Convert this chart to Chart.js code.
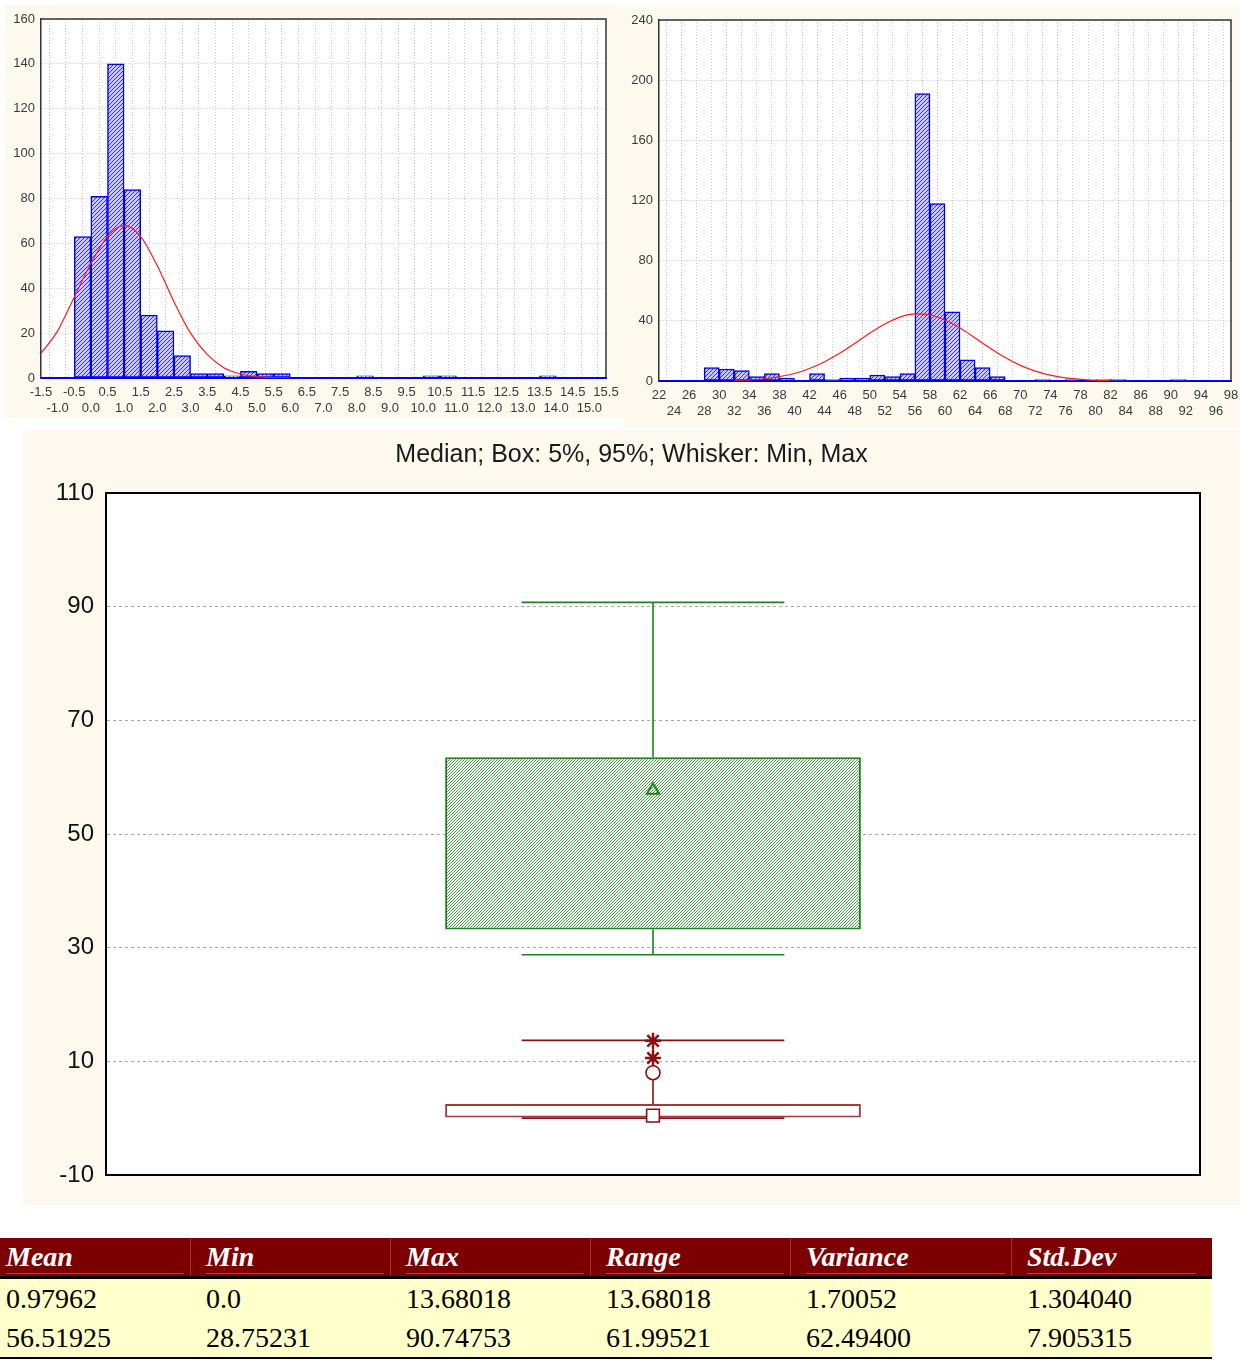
<!DOCTYPE html>
<html>
<head>
<meta charset="utf-8">
<script src="https://cdn.jsdelivr.net/npm/chart.js@4.4.1/dist/chart.umd.min.js"></script>
<style>
  body { margin: 0; background: #fff; width: 1240px; height: 1362px; position: relative; overflow: hidden; }
  .panel { position: absolute; background: #fdf9ee; }
  .panel canvas { display: block; }
  #p1 { left: 5px; top: 5px; width: 618px; height: 413px; }
  #p2 { left: 623px; top: 7px; width: 617px; height: 421px; }
  #p3 { left: 23px; top: 430px; width: 1217px; height: 775px; }
  #stats { position: absolute; left: 0; top: 1238px; width: 1212px; border-collapse: collapse; table-layout: fixed;
           font-family: "Liberation Serif", "Times New Roman", serif; font-size: 28px; }
  #stats th { background: #7d0000; color: #fff; font-style: italic; font-weight: bold; text-align: left;
              height: 38px; padding: 0 0 0 6px; border-bottom: 3px solid #000; position: relative; }
  #stats th span { display: block; line-height: 32px; border-bottom: 1px solid #a54a4a; margin-right: 16px; }
  #stats th + th::before { content: ""; position: absolute; left: -10px; top: 0; bottom: 0; width: 1px; background: #9a3535; }
  #stats td { background: #ffffcc; height: 39px; padding: 0 0 0 6px; color: #000; }
  #stats tbody tr:last-child td { border-bottom: 2px solid #000; }
</style>
</head>
<body>
<div class="panel" id="p1"><canvas id="histA" width="618" height="413"></canvas></div>
<div class="panel" id="p2"><canvas id="histB" width="617" height="421"></canvas></div>
<div class="panel" id="p3"><canvas id="boxes" width="1217" height="775"></canvas></div>
<table id="stats">
  <colgroup><col style="width:200px"><col style="width:200px"><col style="width:200px"><col style="width:200px"><col style="width:221px"><col style="width:191px"></colgroup>
  <thead><tr id="statHead"></tr></thead>
  <tbody id="statBody"></tbody>
</table>
<script>
// --- histogram 1 (bins of 0.5 starting at -1.5)
const histAStart = -1.5;
const histAWidth = 0.5;
const histACounts = [0, 0, 63, 81, 140, 84, 28, 21, 10, 2, 2, 1, 3, 2, 2, 0, 0, 0, 0, 1,
                     0, 0, 0, 1, 1, 0, 0, 0, 0, 0, 1, 0, 0, 0];
const histACurveX = [-1.5, -1, -0.5, 0, 0.5, 1, 1.5, 2, 2.5, 3, 3.5, 4, 4.5, 5, 5.5, 6];
const histACurveY = [11, 21, 36, 51, 63, 68, 63, 50, 34, 20, 10.5, 4.6, 1.8, 0.6, 0.2, 0];

// --- histogram 2 (bins of 2 starting at 22)
const histBStart = 22;
const histBWidth = 2;
const histBCounts = [0, 0, 0, 9, 8, 7, 3, 5, 2, 0, 5, 1, 2, 2, 4, 3, 5, 191, 118, 46,
                     14, 9, 3, 0, 0, 1, 0, 1, 0, 1, 1, 0, 0, 0, 1, 0, 0, 0];
const histBCurveX = [32, 34, 36, 38, 40, 42, 44, 46, 48, 50, 52, 54, 56, 58, 60, 62, 64, 66, 68, 70, 72, 74, 76, 78, 80, 82];
const histBCurveY = [0.4, 0.8, 1.5, 2.9, 5, 8.3, 12.8, 18.4, 25, 31.8, 37.9, 42.5, 44.6, 43.9, 40.6, 35.2,
                     28.6, 21.8, 15.6, 10.4, 6.6, 3.9, 2.1, 1.1, 0.5, 0.25];

// --- box plot
const boxTitle = 'Median; Box: 5%, 95%; Whisker: Min, Max';
const boxMin = [0.0, 28.75];
const boxP05 = [0.1, 33.2];
const boxMedian = [0.45, 57.7];
const boxP95 = [2.5, 63.5];
const boxMax = [13.68, 90.75];
const var1Outliers = [8.0];
const var1Extremes = [10.6, 13.6];

// --- table
const statNames = ['Mean', 'Min', 'Max', 'Range', 'Variance', 'Std.Dev'];
const statsVar1 = ['0.97962', '0.0', '13.68018', '13.68018', '1.70052', '1.304040'];
const statsVar2 = ['56.51925', '28.75231', '90.74753', '61.99521', '62.49400', '7.905315'];

Chart.defaults.font.family = '"Liberation Sans", Arial, sans-serif';
Chart.defaults.animation = false;

function hatch(ctx, bg, fg, size, lw) {
  const c = document.createElement('canvas');
  c.width = size; c.height = size;
  const g = c.getContext('2d');
  g.fillStyle = bg;
  g.fillRect(0, 0, size, size);
  g.strokeStyle = fg;
  g.lineWidth = lw;
  g.beginPath();
  g.moveTo(0, size); g.lineTo(size, 0);
  g.moveTo(-1, 1); g.lineTo(1, -1);
  g.moveTo(size - 1, size + 1); g.lineTo(size + 1, size - 1);
  g.stroke();
  return ctx.createPattern(c, 'repeat');
}

// white plot area + top/right frame
const framePlugin = {
  id: 'frame',
  beforeDraw(chart) {
    const { ctx, chartArea: a } = chart;
    ctx.save();
    ctx.fillStyle = '#fff';
    ctx.fillRect(a.left, a.top, a.right - a.left, a.bottom - a.top);
    ctx.restore();
  },
  afterDatasetsDraw(chart, args, opts) {
    const { ctx, chartArea: a } = chart;
    ctx.save();
    ctx.strokeStyle = opts.color;
    ctx.lineWidth = opts.width;
    ctx.beginPath();
    ctx.moveTo(a.left, a.top);
    ctx.lineTo(a.right, a.top);
    ctx.lineTo(a.right, a.bottom);
    ctx.stroke();
    ctx.restore();
  }
};

function histogram(id, start, width, counts, curveX, curveY, xMax, yMax, yStep, fmt, pad, xHeight) {
  const ctx = document.getElementById(id).getContext('2d');
  const bars = counts.map((c, i) => ({ x: start + (i + 0.5) * width, y: c }));
  const curve = curveX.map((x, i) => ({ x: x, y: curveY[i] }));
  new Chart(ctx, {
    type: 'bar',
    data: {
      datasets: [
        {
          type: 'line', data: curve, borderColor: '#ff1a1a', borderWidth: 1.2,
          pointRadius: 0, cubicInterpolationMode: 'monotone', order: 0
        },
        {
          data: bars, backgroundColor: hatch(ctx, '#c9c9ff', '#2d2dff', 4, 1),
          borderColor: '#0000f0', borderWidth: 1.5, borderSkipped: false,
          barPercentage: 1, categoryPercentage: 1, order: 1
        }
      ]
    },
    options: {
      responsive: false,
      devicePixelRatio: 1,
      layout: { padding: pad },
      plugins: { legend: { display: false }, tooltip: { enabled: false }, frame: { color: '#333', width: 1.5 } },
      scales: {
        x: {
          type: 'linear', min: start, max: xMax, offset: false,
          grid: { color: '#c4c4c4', drawTicks: false },
          border: { color: '#0000ee', width: 2, dash: [1, 2] },
          ticks: {
            stepSize: width, autoSkip: false, maxRotation: 0, minRotation: 0, padding: 7,
            color: '#3a3a3a', font: { size: 13 },
            callback: (v, i) => (i % 2 === 0 ? [fmt(v), ''] : ['', fmt(v)])
          },
          afterFit: (s) => { s.height = xHeight; s.paddingLeft = 0; s.paddingRight = 0; }
        },
        y: {
          min: 0, max: yMax,
          grid: { color: '#c4c4c4', drawTicks: false },
          border: { color: '#333', width: 1.5, dash: [1, 2] },
          ticks: { stepSize: yStep, padding: 6, color: '#3a3a3a', font: { size: 13 } },
          afterFit: (s) => { s.width = 36; s.paddingTop = 0; s.paddingBottom = 0; }
        }
      }
    },
    plugins: [framePlugin]
  });
}

histogram('histA', histAStart, histAWidth, histACounts, histACurveX, histACurveY, 15.5, 160, 20,
  (v) => Number(v).toFixed(1), { top: 14, right: 17, left: 0, bottom: 0 }, 40);
histogram('histB', histBStart, histBWidth, histBCounts, histBCurveX, histBCurveY, 98, 240, 40,
  (v) => String(Math.round(v)), { top: 13, right: 9, left: 0, bottom: 0 }, 47);

// --- box plot
const boxColors = ['#8b0f0f', '#17851a'];
const boxBorders = ['#a23a3a', '#17851a'];
const capRatio = 0.632;

const whiskerPlugin = {
  id: 'whiskers',
  beforeDatasetsDraw(chart) {
    const { ctx } = chart;
    const y = chart.scales.y;
    chart.data.datasets.forEach((ds, di) => {
      if (ds.boxIndex === undefined) return;
      const i = ds.boxIndex;
      const bar = chart.getDatasetMeta(di).data[0];
      const half = bar.width * capRatio / 2;
      ctx.save();
      ctx.strokeStyle = boxColors[i];
      ctx.lineWidth = 1.6;
      ctx.beginPath();
      ctx.moveTo(bar.x, y.getPixelForValue(boxP95[i]));
      ctx.lineTo(bar.x, y.getPixelForValue(boxMax[i]));
      ctx.moveTo(bar.x, y.getPixelForValue(boxP05[i]));
      ctx.lineTo(bar.x, y.getPixelForValue(boxMin[i]));
      [boxMax[i], boxMin[i]].forEach((v) => {
        const py = y.getPixelForValue(v);
        ctx.moveTo(bar.x - half, py);
        ctx.lineTo(bar.x + half, py);
      });
      ctx.stroke();
      ctx.restore();
    });
  }
};

const bctx = document.getElementById('boxes').getContext('2d');
new Chart(bctx, {
  type: 'bar',
  data: {
    labels: ['A'],
    datasets: [
      {
        type: 'line', data: var1Extremes.map((v) => ({ x: 'A', y: v })), showLine: false,
        pointStyle: 'star', pointRadius: 8, pointBorderWidth: 2.5, pointBorderColor: boxColors[0], order: 0
      },
      {
        type: 'line', data: var1Outliers.map((v) => ({ x: 'A', y: v })), showLine: false,
        pointStyle: 'circle', pointRadius: 7, pointBorderWidth: 1.6, pointBorderColor: boxColors[0],
        pointBackgroundColor: '#fff', order: 0
      },
      {
        type: 'line', data: [boxMedian[0]], showLine: false, pointStyle: 'rect', pointRadius: 9,
        pointBorderWidth: 1.6, pointBorderColor: boxColors[0], pointBackgroundColor: '#fff', order: 0
      },
      {
        type: 'line', data: [boxMedian[1]], showLine: false, pointStyle: 'triangle', pointRadius: 7,
        pointBorderWidth: 2, pointBorderColor: boxColors[1], pointBackgroundColor: 'rgba(0,0,0,0)', order: 0
      },
      {
        data: [[boxP05[1], boxP95[1]]], boxIndex: 1, grouped: false, order: 1,
        backgroundColor: hatch(bctx, '#ffffff', '#2c9a2e', 3, 0.9), borderColor: boxBorders[1],
        borderWidth: 2, borderSkipped: false, barPercentage: 0.38, categoryPercentage: 1
      },
      {
        data: [[boxP05[0], boxP95[0]]], boxIndex: 0, grouped: false, order: 1,
        backgroundColor: '#ffffff', borderColor: boxBorders[0],
        borderWidth: 2, borderSkipped: false, barPercentage: 0.38, categoryPercentage: 1
      }
    ]
  },
  options: {
    responsive: false,
    devicePixelRatio: 1,
    layout: { padding: { top: 0, right: 0, left: 0, bottom: 30 } },
    plugins: {
      legend: { display: false },
      tooltip: { enabled: false },
      title: {
        display: true, text: boxTitle, color: '#1a1a1a',
        font: { size: 25, weight: 'normal', lineHeight: 1.2 }, padding: { top: 10, bottom: 23 }
      },
      frame: { color: '#000', width: 2 }
    },
    scales: {
      x: {
        grid: { display: false, drawTicks: false },
        border: { color: '#000', width: 2 },
        ticks: { display: false },
        afterFit: (s) => { s.height = 0; s.paddingLeft = 0; s.paddingRight = 0; }
      },
      y: {
        min: -10, max: 110,
        grid: {
          drawTicks: false,
          color: (c) => (c.tick && (c.tick.value === -10 || c.tick.value === 110) ? 'rgba(0,0,0,0)' : '#a8a8a8')
        },
        border: { color: '#000', width: 2, dash: [3, 3] },
        ticks: { stepSize: 20, padding: 12, color: '#111', font: { size: 24 } },
        afterFit: (s) => { s.width = 83; s.paddingTop = 0; s.paddingBottom = 0; }
      },
      // empty right-hand margin so the title centres over the whole panel
      yRight: {
        position: 'right', min: -10, max: 110,
        grid: { display: false, drawTicks: false },
        border: { display: false },
        ticks: { display: false },
        afterFit: (s) => { s.width = 40; s.paddingTop = 0; s.paddingBottom = 0; }
      }
    }
  },
  plugins: [framePlugin, whiskerPlugin]
});

// --- table
const head = document.getElementById('statHead');
statNames.forEach((n) => {
  const th = document.createElement('th');
  const span = document.createElement('span');
  span.textContent = n;
  th.appendChild(span);
  head.appendChild(th);
});
const body = document.getElementById('statBody');
[statsVar1, statsVar2].forEach((row) => {
  const tr = document.createElement('tr');
  row.forEach((v) => {
    const td = document.createElement('td');
    td.textContent = v;
    tr.appendChild(td);
  });
  body.appendChild(tr);
});
</script>
</body>
</html>
